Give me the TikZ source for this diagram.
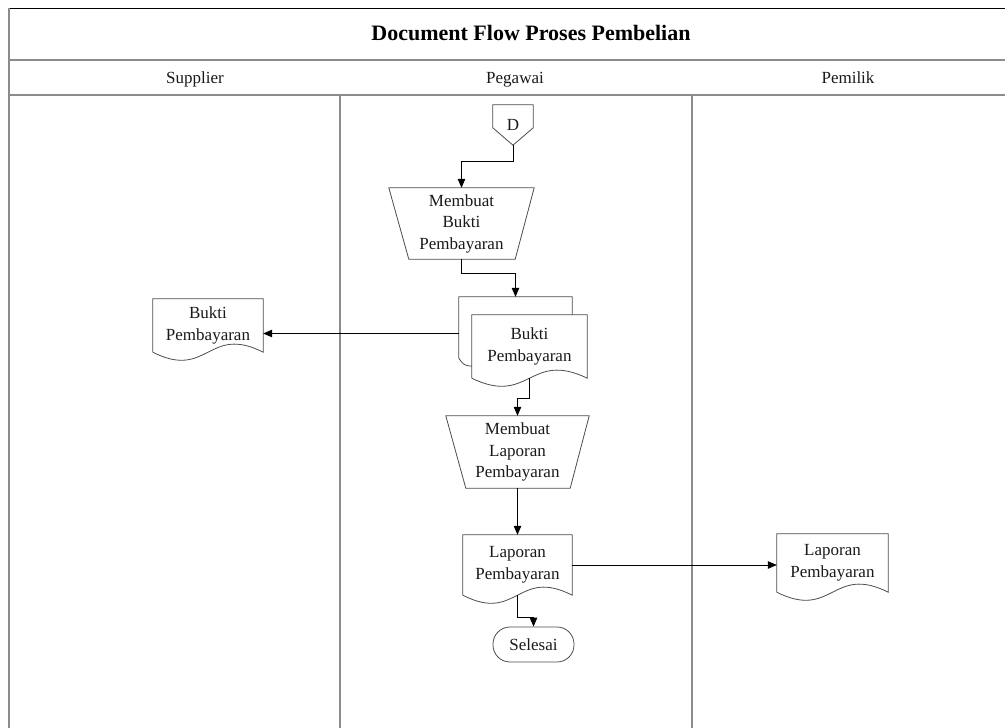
\documentclass[tikz,border=0pt]{standalone}
\usepackage{fontspec}
\setmainfont{Liberation Serif}
\usetikzlibrary{arrows.meta,calc}

% outlines drawn round a named node
\newcommand{\docoutline}[1]{%
  \draw[shapeline] (#1.south west) -- (#1.north west) -- (#1.north east) -- (#1.south east)
    .. controls ($(#1.south)+(0,-28)$) and ($(#1.south)+(0,28)$) .. (#1.south west);}
\newcommand{\manualop}[1]{%
  \draw[shapeline] (#1.north west) -- (#1.north east) -- ($(#1.south east)+(-19,0)$)
    -- ($(#1.south west)+(20,0)$) -- cycle;}
\newcommand{\offpage}[1]{%
  \draw[shapeline] (#1.north west) -- (#1.north east) -- ($(#1.north east)+(0,23)$)
    -- (#1.south) -- ($(#1.north west)+(0,23)$) -- cycle;}

\begin{document}
\begin{tikzpicture}[x=1pt, y=-1pt,
    txt/.style={inner sep=0pt, align=center, text=black!90, font=\fontsize{17}{21.5}\selectfont},
    head/.style={txt, anchor=base},
    title/.style={txt, anchor=base, text=black, font=\fontsize{22}{24}\selectfont\bfseries},
    shapeline/.style={draw=black!70, line width=0.8pt},
    laneline/.style={draw=black!45, line width=1.2pt},
    terminal/.style={txt, shapeline, rounded corners=17pt, minimum width=81pt, minimum height=35pt},
    flow/.style={draw=black, line width=0.8pt, -{Triangle[length=9pt,width=7.5pt]}}]
    \useasboundingbox (0,0) rectangle (1005,728);

    % Lanes
    \draw[black, line width=1pt] (9,8) -- (1005,8);
    \draw[laneline] (9,8) -- (9,728);
    \foreach \y in {60,95} \draw[laneline] (9,\y) -- (1005,\y);
    \foreach \x in {340,692} \draw[laneline] (\x,95) -- (\x,728);

    % Title and lane names
    \node[title] (judul) at (531,41) {Document Flow Proses Pembelian};
    \node[head] (supplier) at (195,83) {Supplier};
    \node[head] (pegawai) at (515,83) {Pegawai};
    \node[head] (pemilik) at (848,83) {Pemilik};

    % Pegawai
    \node[txt, minimum width=40pt, minimum height=40pt] (conD) at (513,125) {D};
    \offpage{conD}
    \node[txt, minimum width=145pt, minimum height=71pt] (mbukti) at (461.5,223.5) {Membuat\\Bukti\\Pembayaran};
    \manualop{mbukti}
    \node[txt, minimum width=115pt, minimum height=63pt] (bukti2) at (529.5,346.5) {Bukti\\Pembayaran};
    \docoutline{bukti2}
    \draw[shapeline] ($(bukti2.north east)+(-15,0)$) -- ++(0,-18) -- ($(bukti2.north west)+(-13,-18)$)
      -- ($(bukti2.south west)+(-13,-20)$) .. controls +(5,7) .. ($(bukti2.south west)+(0,-12)$);
    \coordinate (backtop) at ($(bukti2.north)+(-14,-18)$);
    \coordinate (backleft) at ($(bukti2.west)+(-13,-13)$);
    \node[txt, minimum width=143pt, minimum height=72pt] (mlaporan) at (517.5,452) {Membuat\\Laporan\\Pembayaran};
    \manualop{mlaporan}
    \node[txt, minimum width=109pt, minimum height=60pt] (laporan1) at (517.5,565) {Laporan\\Pembayaran};
    \docoutline{laporan1}
    \node[terminal] (selesai) at (533.5,644.5) {Selesai};

    % Supplier and Pemilik
    \node[txt, minimum width=110pt, minimum height=53pt] (bukti1) at (208,325.5) {Bukti\\Pembayaran};
    \docoutline{bukti1}
    \node[txt, minimum width=111pt, minimum height=58pt] (laporan2) at (832.5,563) {Laporan\\Pembayaran};
    \docoutline{laporan2}

    % Flow
    \draw[flow] (conD.south) -- ++(0,16) -| (mbukti.north);
    \draw[flow] (mbukti.south) -- ++(0,14) -| (backtop);
    \draw[flow] (backleft) -- (bukti1.east |- backleft);
    \draw[flow] (bukti2.south) -- ++(0,20) -| (mlaporan.north);
    \draw[flow] (mlaporan.south) -- (laporan1.north);
    \draw[flow] (laporan1.east) -- (laporan2.west |- laporan1.east);
    \draw[flow] (laporan1.south) -- ++(0,22) -| (selesai.north);
\end{tikzpicture}
\end{document}
